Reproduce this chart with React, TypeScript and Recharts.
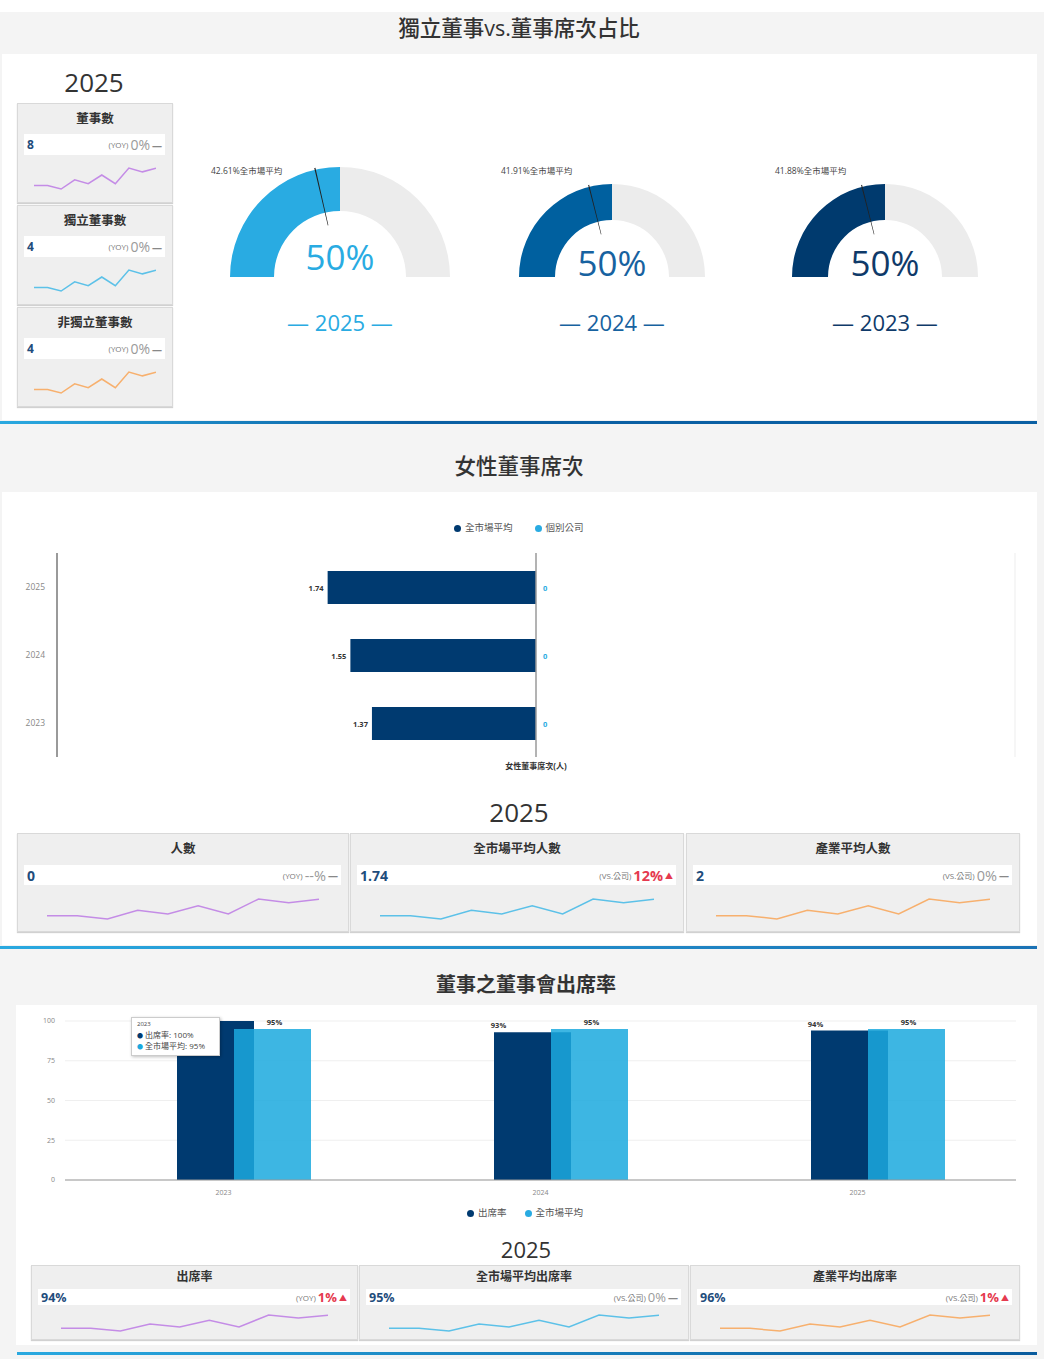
import React from "react";
import {
  PieChart, Pie, Cell, BarChart, Bar, XAxis, YAxis, CartesianGrid, LineChart, Line,
  LabelList, ReferenceLine, Tooltip, Rectangle,
} from "recharts";

const FONT = '"Open Sans","Noto Sans CJK TC",sans-serif';

// gauges
const gaugeYears = ["2025", "2024", "2023"];
const gaugeShare = [50, 50, 50];
const gaugeMarket = [42.61, 41.91, 41.88];

// female directors
const femaleYears = ["2025", "2024", "2023"];
const femaleMarket = [1.74, 1.55, 1.37];
const femaleCompany = [0, 0, 0];

// attendance
const attYears = ["2023", "2024", "2025"];
const attRate = [100, 93, 94];
const attMarket = [95, 95, 95];

// sparkline trend (same in every card)
const sparkValues = [10, 10, 0, 26, 15, 40, 15, 60, 49, 59];

// kpi cards
const boardTitles = ["董事數", "獨立董事數", "非獨立董事數"];
const boardValues = ["8", "4", "4"];
const boardChanges = ["0%", "0%", "0%"];

const femaleTitles = ["人數", "全市場平均人數", "產業平均人數"];
const femaleValues = ["0", "1.74", "2"];
const femaleTags = ["YOY", "VS.公司", "VS.公司"];
const femaleChanges = ["--%", "12%", "0%"];
const femaleUp = [false, true, false];

const attTitles = ["出席率", "全市場平均出席率", "產業平均出席率"];
const attValues = ["94%", "95%", "96%"];
const attTags = ["YOY", "VS.公司", "VS.公司"];
const attChanges = ["1%", "0%", "1%"];
const attUp = [true, false, true];

const lineColors = ["#c48ce6", "#5cc1e8", "#f7b06e"];

const sparkData = sparkValues.map((v, i) => ({ i, v }));

type Lay = { titleY: number; rowTop: number; rowH: number; lineTop: number; lineH: number; inset: number; valSize: number; chgSize: number; titleSize: number };

function Kpi({ x, y, w, h, title, value, tag, change, up, color, lay }: any) {
  const L: Lay = lay;
  return (
    <div style={{
      position: "absolute", left: x, top: y, width: w, height: h, boxSizing: "border-box",
      background: "#efefef", border: "1px solid #d9d9d9", boxShadow: "0 1px 1px rgba(0,0,0,0.18)",
    }}>
      <div style={{ position: "absolute", left: 0, right: 0, top: L.titleY - 10, textAlign: "center", fontSize: L.titleSize, fontWeight: 700, color: "#333", lineHeight: "20px" }}>{title}</div>
      <div style={{ position: "absolute", left: 6, right: 7, top: L.rowTop, height: L.rowH, background: "#fff", display: "flex", alignItems: "center", justifyContent: "space-between", padding: "0 3px" }}>
        <span style={{ fontSize: L.valSize, fontWeight: 700, color: "#1f4d7c" }}>{value}</span>
        <span style={{ display: "flex", alignItems: "center", gap: 2 }}>
          <span style={{ fontSize: 8, color: "#777" }}>({tag})</span>
          <span style={{ fontSize: L.chgSize, color: up ? "#e53a4f" : "#9a9a9a", fontWeight: up ? 700 : 400 }}>{change}</span>
          <span style={{ fontSize: up ? 8 : 10, color: up ? "#e53a4f" : "#888", fontWeight: 700 }}>{up ? "▲" : "—"}</span>
        </span>
      </div>
      <div style={{ position: "absolute", left: L.inset - 1, top: L.lineTop - 3 }}>
        <LineChart width={w - 2 * L.inset} height={L.lineH + 6} data={sparkData} margin={{ top: 3, bottom: 3, left: 0, right: 0 }}>
          <XAxis dataKey="i" hide />
          <YAxis hide domain={["dataMin", "dataMax"]} />
          <Line dataKey="v" stroke={color} strokeWidth={1.5} dot={false} isAnimationActive={false} />
        </LineChart>
      </div>
    </div>
  );
}

function Gauge({ cx, cy, r, ir, share, market, year, color, textColor, labelX, textY }: any) {
  const W = 2 * r + 40;
  const H = r + 30;
  const data = [{ name: "獨立", v: share }, { name: "非獨立", v: 100 - share }];
  const needle = [{ v: market }, { v: 0.35 }, { v: 100 - market - 0.35 }];
  return (
    <>
      <div style={{ position: "absolute", left: cx - W / 2, top: cy - r - 10 }}>
        <PieChart width={W} height={H} margin={{ top: 0, right: 0, bottom: 0, left: 0 }}>
          <Pie data={data} dataKey="v" cx={W / 2} cy={r + 10} startAngle={180} endAngle={0}
            innerRadius={ir} outerRadius={r} stroke="none" isAnimationActive={false}>
            <Cell fill={color} />
            <Cell fill="#ececec" />
          </Pie>
          <Pie data={needle} dataKey="v" cx={W / 2} cy={r + 10} startAngle={180} endAngle={0}
            innerRadius={ir - 13} outerRadius={r + 2} stroke="none" isAnimationActive={false}>
            <Cell fill="none" />
            <Cell fill="#222" />
            <Cell fill="none" />
          </Pie>
        </PieChart>
      </div>
      <div style={{ position: "absolute", left: labelX, top: 165, fontSize: 8.5, color: "#444", whiteSpace: "nowrap", lineHeight: "12px" }}>
        {market}%全市場平均
      </div>
      <div style={{ position: "absolute", left: cx - 80, width: 160, top: textY - 21, textAlign: "center", fontSize: 35, color: textColor, lineHeight: "42px" }}>
        {share}%
      </div>
      <div style={{ position: "absolute", left: cx - 80, width: 160, top: 308, textAlign: "center", fontSize: 22, color: textColor, lineHeight: "28px" }}>
        — {year} —
      </div>
    </>
  );
}

function AttTip({ payload, label }: any) {
  if (!payload || !payload.length) return null;
  return (
    <div style={{ background: "#fff", border: "1px solid #ccc", boxShadow: "1px 1px 3px rgba(0,0,0,0.25)", padding: "2px 5px", fontSize: 8, color: "#444", lineHeight: "9.5px", fontFamily: FONT, width: 89, boxSizing: "border-box" }}>
      <div style={{ fontSize: 6 }}>{label}</div>
      {payload.map((p: any) => (
        <div key={p.dataKey} style={{ whiteSpace: "nowrap" }}><span style={{ color: p.color, fontSize: 6 }}>●</span> {p.name}: {p.value}%</div>
      ))}
    </div>
  );
}

const Title = ({ x, y, size, children, bold }: any) => (
  <div style={{ position: "absolute", left: x - 250, width: 500, top: y - size * 0.7, textAlign: "center", fontSize: size, color: "#333", fontWeight: bold ? 700 : 500, lineHeight: `${size * 1.4}px` }}>{children}</div>
);

const Dot = ({ c }: any) => <span style={{ display: "inline-block", width: 7, height: 7, borderRadius: 4, background: c, marginRight: 4, verticalAlign: "middle" }} />;

export default function App() {
  const femaleData = femaleYears.map((y, i) => ({ year: y, market: -femaleMarket[i], company: femaleCompany[i] }));
  const attData = attYears.map((y, i) => ({ year: y, rate: attRate[i], market: attMarket[i] }));
  const gaugeColors = ["#29abe2", "#00609f", "#003a6e"];
  const gaugeText = ["#29abe2", "#1762a0", "#0f3a69"];

  const topLay: Lay = { titleY: 15, rowTop: 30, rowH: 21, lineTop: 64, lineH: 21, inset: 17, valSize: 12, chgSize: 14, titleSize: 12.5 };
  const midLay: Lay = { titleY: 15, rowTop: 31, rowH: 20, lineTop: 65, lineH: 20, inset: 30, valSize: 14, chgSize: 14.5, titleSize: 12.5 };
  const botLay: Lay = { titleY: 11, rowTop: 23, rowH: 16, lineTop: 49, lineH: 16, inset: 30, valSize: 12.5, chgSize: 13, titleSize: 12 };
  const midX = [17, 350, 686];
  const midW = [332, 334, 334];
  const botX = [31, 359, 690];
  const botW = [327, 330, 330];

  return (
    <div style={{ position: "relative", width: 1044, height: 1359, background: "#fff", fontFamily: FONT, overflow: "hidden" }}>
      <style>{`body{margin:0}`}</style>
      <div style={{ position: "absolute", left: 0, top: 12, width: 1044, height: 1347, background: "#f4f4f4" }} />

      {/* section 1 */}
      <Title x={519} y={28} size={21.5}>獨立董事vs.董事席次占比</Title>
      <div style={{ position: "absolute", left: 2, top: 54, width: 1035, height: 366, background: "#fff" }} />
      <div style={{ position: "absolute", left: 0, top: 421, width: 1037, height: 3, background: "linear-gradient(90deg,#2aa9e0,#0a5fa3 40%,#0a5fa3)" }} />
      <div style={{ position: "absolute", left: 44, width: 100, top: 66, textAlign: "center", fontSize: 26, color: "#333", lineHeight: "32px" }}>2025</div>
      {boardTitles.map((t, i) => (
        <Kpi key={t} x={17} y={[103, 205, 307][i]} w={156} h={100} title={t} value={boardValues[i]}
          tag="YOY" change={boardChanges[i]} up={false} color={lineColors[i]} lay={topLay} />
      ))}
      {gaugeYears.map((y, i) => (
        <Gauge key={y} cx={[340, 612, 885][i]} cy={277} r={i === 0 ? 110 : 93} ir={i === 0 ? 66 : 57}
          share={gaugeShare[i]} market={gaugeMarket[i]} year={y} color={gaugeColors[i]} textColor={gaugeText[i]}
          labelX={[211, 501, 775][i]} textY={[257, 263, 263][i]} />
      ))}

      {/* section 2 */}
      <Title x={519} y={466} size={21.5}>女性董事席次</Title>
      <div style={{ position: "absolute", left: 2, top: 492, width: 1035, height: 453, background: "#fff" }} />
      <div style={{ position: "absolute", left: 0, top: 946, width: 1037, height: 3, background: "linear-gradient(90deg,#2aa9e0,#1a72b5)" }} />
      <div style={{ position: "absolute", left: 454, top: 521, fontSize: 9.5, color: "#555", whiteSpace: "nowrap", lineHeight: "14px" }}>
        <Dot c="#003a70" />全市場平均<span style={{ marginLeft: 22 }}><Dot c="#29abe2" />個別公司</span>
      </div>
      <div style={{ position: "absolute", left: 0, top: 545 }}>
        <BarChart width={1044} height={240} data={femaleData} layout="vertical" barSize={33}
          margin={{ top: 8, right: 29, left: 0, bottom: 0 }}>
          <CartesianGrid horizontal={false} stroke="#ededed" />
          <XAxis type="number" domain={[-4, 4]} ticks={[-4, -2, 0, 2, 4]} tick={false} axisLine={false} tickLine={false} height={28}
            label={{ value: "女性董事席次(人)", position: "insideTop", offset: 6, fontSize: 8, fontWeight: 700, fill: "#333" }} />
          <YAxis type="category" dataKey="year" width={57} axisLine={{ stroke: "#9a9a9a", strokeWidth: 2 }} tickLine={false}
            tickMargin={6} tick={{ fontSize: 8.5, fill: "#888" }} />
          <ReferenceLine x={0} stroke="#9a9a9a" strokeWidth={1.5} />
          <Bar dataKey="market" name="全市場平均" stackId="a" fill="#003a70" isAnimationActive={false}>
            <LabelList dataKey="market" content={(p: any) => (
              <text x={Math.min(p.x, p.x + p.width) - 4} y={p.y + p.height / 2 + 3} textAnchor="end" fontSize={7.5} fontWeight={700} fill="#333">{Math.abs(p.value)}</text>
            )} />
            <LabelList dataKey="company" content={(p: any) => (
              <text x={Math.max(p.x, p.x + p.width) + 7} y={p.y + p.height / 2 + 3} textAnchor="start" fontSize={7.5} fontWeight={700} fill="#29abe2">{p.value}</text>
            )} />
          </Bar>
          <Bar dataKey="company" name="個別公司" stackId="a" fill="#29abe2" isAnimationActive={false} />
        </BarChart>
      </div>
      <div style={{ position: "absolute", left: 469, width: 100, top: 796, textAlign: "center", fontSize: 26, color: "#333", lineHeight: "32px" }}>2025</div>
      {femaleTitles.map((t, i) => (
        <Kpi key={t} x={midX[i]} y={833} w={midW[i]} h={99} title={t} value={femaleValues[i]}
          tag={femaleTags[i]} change={femaleChanges[i]} up={femaleUp[i]} color={lineColors[i]} lay={midLay} />
      ))}

      {/* section 3 */}
      <Title x={526} y={985} size={20} bold>董事之董事會出席率</Title>
      <div style={{ position: "absolute", left: 16, top: 1005, width: 1021, height: 340, background: "#fff" }} />
      <div style={{ position: "absolute", left: 17, top: 1352, width: 1020, height: 3, background: "linear-gradient(90deg,#2aa9e0,#0a5c9e)" }} />
      <div style={{ position: "absolute", left: 0, top: 1010 }}>
        <BarChart width={1044} height={192} data={attData} barSize={77} barGap={-20}
          margin={{ top: 11, right: 28, left: 0, bottom: 0 }}>
          <CartesianGrid vertical={false} stroke="#efefef" />
          <XAxis dataKey="year" height={22} axisLine={{ stroke: "#999" }} tickLine={false} tickMargin={4} tick={{ fontSize: 7, fill: "#888" }} />
          <YAxis domain={[0, 100]} ticks={[0, 25, 50, 75, 100]} width={65} axisLine={false} tickLine={false} tickMargin={4}
            tick={{ fontSize: 7, fill: "#888" }} />
          <Tooltip active defaultIndex={0} position={{ x: 131, y: 7 }} cursor={false} isAnimationActive={false} content={<AttTip />} />
          <Bar dataKey="rate" name="出席率" fill="#003a70" isAnimationActive={false} activeBar={false}
            shape={(p: any) => <Rectangle x={p.x + 20} y={p.y} width={p.width} height={p.height} fill="#003a70" />}>
            <LabelList dataKey="rate" content={(p: any) => p.value >= 100 ? null : (
              <text x={p.x + p.width / 2 - 14} y={p.y - 4} textAnchor="middle" fontSize={7.5} fontWeight={700} fill="#333">{p.value}%</text>
            )} />
          </Bar>
          <Bar dataKey="market" name="全市場平均" fill="#1ba9de" isAnimationActive={false} activeBar={false}
            shape={(p: any) => <Rectangle x={p.x + 20} y={p.y} width={p.width} height={p.height} fill="#1ba9de" fillOpacity={0.85} />}>
            <LabelList dataKey="market" content={(p: any) => (
              <text x={p.x + p.width / 2 + 22} y={p.y - 4} textAnchor="middle" fontSize={7.5} fontWeight={700} fill="#333">{p.value}%</text>
            )} />
          </Bar>
        </BarChart>
      </div>
      <div style={{ position: "absolute", left: 467, top: 1206, fontSize: 9.5, color: "#555", whiteSpace: "nowrap", lineHeight: "14px" }}>
        <Dot c="#003a70" />出席率<span style={{ marginLeft: 18 }}><Dot c="#29abe2" />全市場平均</span>
      </div>
      <div style={{ position: "absolute", left: 476, width: 100, top: 1235, textAlign: "center", fontSize: 22, color: "#333", lineHeight: "28px" }}>2025</div>
      {attTitles.map((t, i) => (
        <Kpi key={t} x={botX[i]} y={1265} w={botW[i]} h={75} title={t} value={attValues[i]}
          tag={attTags[i]} change={attChanges[i]} up={attUp[i]} color={lineColors[i]} lay={botLay} />
      ))}
    </div>
  );
}
